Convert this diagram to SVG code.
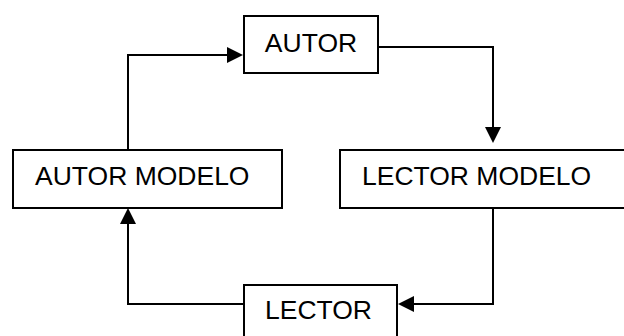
<svg xmlns="http://www.w3.org/2000/svg" width="624" height="336" viewBox="0 0 624 336">
<defs>
<style>
.box{fill:#fff;stroke:#000;stroke-width:2}
.lbl{font-family:"Liberation Sans",Arial,sans-serif;font-size:26.5px;fill:#000}
.con{fill:none;stroke:#000;stroke-width:2}
.ah{fill:#000;stroke:none}
</style>
</defs>
<rect width="624" height="336" fill="#fff"/>
<g id="connectors">
<path class="con" d="M378,47 H493 V128"/>
<path class="ah" d="M485,127 L501,127 L493,143 Z"/>
<path class="con" d="M493,208 V304 H413"/>
<path class="ah" d="M414,296 L414,312 L398,304 Z"/>
<path class="con" d="M244,304 H128 V224"/>
<path class="ah" d="M120,224 L136,224 L128,208 Z"/>
<path class="con" d="M128,150 V55 H228"/>
<path class="ah" d="M227,47 L227,63 L243,55 Z"/>
</g>
<g id="autor">
<rect class="box" x="244" y="16" width="134" height="57"/>
<text class="lbl" x="311" y="52" text-anchor="middle">AUTOR</text>
</g>
<g id="autor-modelo">
<rect class="box" x="13" y="150" width="269" height="58"/>
<text class="lbl" x="35" y="185">AUTOR MODELO</text>
</g>
<g id="lector-modelo">
<rect class="box" x="340" y="150" width="300" height="58"/>
<text class="lbl" x="362" y="185">LECTOR MODELO</text>
</g>
<g id="lector">
<rect class="box" x="244" y="285" width="153" height="60"/>
<text class="lbl" x="265" y="319">LECTOR</text>
</g>
</svg>
